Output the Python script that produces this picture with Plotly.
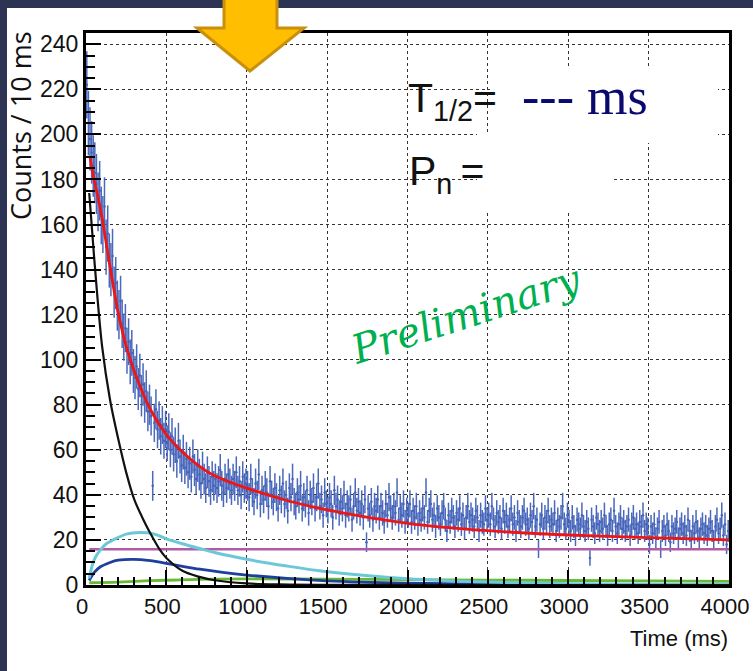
import plotly.graph_objects as go

# ---------------- data ----------------
bin_width_ms = 10
counts = [
    222, 205, 198, 192, 186, 183, 178, 170, 175, 164,
    160, 168, 150, 156, 144, 140, 146, 130, 134, 124,
    120, 126, 116, 110, 114, 104, 108, 99, 103, 95,
    92, 97, 87, 93, 84, 89, 81, 86, 77, 80,
    75, 44, 72, 78, 69, 73, 66, 71, 64, 69,
    63, 68, 60, 66, 58, 62, 55, 64, 57, 53,
    59, 52, 56, 50, 54, 48, 57, 51, 47, 53,
    49, 45, 52, 47, 43, 50, 46, 42, 48, 44,
    47, 43, 46, 51, 44, 41, 47, 43, 49, 45,
    42, 47, 44, 50, 42, 46, 40, 48, 43, 45,
    44, 39, 47, 41, 37, 45, 40, 49, 36, 42,
    38, 44, 41, 35, 46, 40, 37, 43, 39, 34,
    42, 38, 45, 36, 40, 33, 43, 39, 47, 37,
    35, 41, 38, 44, 34, 39, 36, 42, 32, 40,
    37, 43, 34, 39, 45, 35, 38, 31, 41, 36,
    33, 39, 36, 30, 42, 35, 38, 32, 37, 34,
    40, 31, 36, 34, 38, 29, 35, 41, 33, 37,
    32, 36, 30, 38, 19, 34, 31, 37, 29, 35,
    33, 38, 30, 35, 32, 28, 36, 31, 39, 34,
    30, 35, 32, 41, 29, 34, 31, 36, 28, 33,
    31, 36, 28, 33, 30, 35, 27, 32, 29, 34,
    30, 41, 28, 33, 36, 29, 31, 26, 34, 30,
    27, 32, 35, 29, 24, 31, 28, 33, 30, 26,
    32, 29, 34, 27, 31, 25, 30, 35, 28, 31,
    29, 26, 33, 30, 24, 31, 28, 27, 34, 29,
    31, 27, 35, 29, 26, 32, 28, 30, 25, 33,
    28, 31, 26, 29, 34, 27, 30, 24, 32, 28,
    26, 30, 33, 27, 29, 25, 31, 28, 35, 26,
    29, 16, 27, 31, 25, 30, 28, 33, 26, 29,
    27, 32, 24, 29, 26, 30, 35, 27, 25, 31,
    28, 24, 30, 26, 22, 29, 27, 25, 31, 26,
    24, 28, 25, 12, 29, 26, 23, 30, 27, 24,
    28, 25, 31, 26, 22, 27, 29, 24, 33, 26,
    23, 27, 30, 25, 28, 24, 26, 29, 22, 27,
    30, 25, 27, 23, 28, 26, 31, 24, 27, 25,
    18, 26, 23, 27, 21, 25, 28, 16, 24, 26,
    22, 27, 24, 19, 26, 23, 25, 28, 21, 25,
    27, 23, 26, 22, 29, 24, 20, 26, 23, 28,
    24, 21, 25, 27, 23, 26, 22, 25, 28, 24,
    20, 26, 29, 23, 25, 31, 22, 27, 18, 24,
]
bin_centers = [i * bin_width_ms + bin_width_ms / 2 for i in range(len(counts))]

# fit components
total_t = [25, 50, 75, 100, 150, 200, 250, 300, 400, 500, 600, 700, 800, 1000, 1250, 1500, 2000, 2500, 3000, 3500, 4000]
total_v = [190, 180, 172, 163, 141, 121, 106, 95, 78, 66.7, 59, 53, 48.5, 43, 37.5, 33.3, 27.4, 24.1, 22.2, 21, 20]

parent_t = [20, 50, 100, 150, 200, 250, 300, 350, 400, 460, 500, 600, 700, 800, 1000, 1200, 1500, 2000, 3000, 4000]
parent_v = [174, 146, 106, 82, 65, 50, 38, 30, 23, 15.6, 12, 6.3, 3.7, 2.1, 0.7, 0.25, 0.08, 0.02, 0, 0]

cyan_t = [20, 40, 60, 90, 130, 170, 250, 335, 420, 500, 600, 700, 800, 1000, 1250, 1500, 2000, 2500, 3000, 4000]
cyan_v = [3, 9, 12.5, 15.6, 18.5, 20, 22.6, 23.3, 22.7, 20.5, 18.3, 16.3, 14.4, 11.4, 8.4, 5.9, 2.8, 1.3, 0.6, 0.2]

blue_t = [20, 50, 90, 150, 200, 294, 400, 500, 600, 708, 850, 1000, 1250, 1500, 2000, 2500, 3000, 4000]
blue_v = [2, 5.5, 8.1, 10, 11, 11.4, 10.8, 9.6, 8.3, 7, 5.6, 4.4, 2.9, 1.8, 0.8, 0.4, 0.2, 0.1]

green_t = [20, 200, 400, 600, 800, 1000, 1500, 2000, 2500, 3000, 3500, 4000]
green_v = [1.0, 1.3, 1.9, 2.3, 2.6, 2.7, 2.6, 2.4, 2.2, 2.0, 1.8, 1.6]

bkg_t = [20, 4000]
bkg_v = [15.9, 15.9]

x_range = [0, 4000]
y_range = [0, 245]

# ---------------- layout helpers ----------------
W, H = 753, 671
ML, MR, MT, MB = 86, 24, 33, 86
PW, PH = W - ML - MR, H - MT - MB


def pxx(p):
    return (p - ML) / PW


def pxy(p):
    return (H - MB - p) / PH


TICKFONT = "Liberation Sans, Arial, sans-serif"

fig = go.Figure()

fig.add_trace(go.Scatter(
    x=bin_centers, y=counts, mode="markers",
    marker=dict(color="#4564b8", size=2.5),
    error_y=dict(type="sqrt", color="#4a68bc", thickness=1.5, width=0),
    showlegend=False, hoverinfo="skip",
))

curves = [
    (bkg_t, bkg_v, "#b15aa6", 2.6),
    (green_t, green_v, "#66bb33", 2.8),
    (blue_t, blue_v, "#1f3f9f", 2.8),
    (cyan_t, cyan_v, "#6cc8d8", 3.0),
    (parent_t, parent_v, "#111111", 2.2),
    (total_t, total_v, "#ee1515", 2.8),
]
for t, v, c, w in curves:
    fig.add_trace(go.Scatter(
        x=t, y=v, mode="lines",
        line=dict(color=c, width=w, shape="spline", smoothing=0.9),
        showlegend=False, hoverinfo="skip",
    ))

axis_common = dict(
    showline=True, linecolor="black", linewidth=3, mirror=True,
    ticks="inside", tickcolor="black", tickwidth=2,
    showgrid=True, gridcolor="#333333", gridwidth=1.3, griddash="dot",
    zeroline=False, ticklabeloverflow="allow", automargin=False,
)

fig.update_xaxes(
    range=x_range, dtick=500, tick0=0, ticklen=15,
    minor=dict(dtick=100, ticklen=8, tickwidth=1.6, tickcolor="black", ticks="inside", showgrid=False),
    tickfont=dict(family=TICKFONT, size=22, color="#111111"),
    ticklabelshift=-4,
    **axis_common,
)
fig.update_yaxes(
    range=y_range, dtick=20, tick0=0, ticklen=15,
    minor=dict(dtick=5, ticklen=9, tickwidth=1.6, tickcolor="black", ticks="inside", showgrid=False),
    tickfont=dict(family=TICKFONT, size=23, color="#111111"),
    **axis_common,
)

shapes = []
# dark slide background strips
navy = "#2d3352"
shapes.append(dict(type="rect", xref="paper", yref="paper", x0=pxx(-2), x1=pxx(7), y0=pxy(H + 2), y1=pxy(-2),
                   fillcolor=navy, line=dict(width=0), layer="below"))
shapes.append(dict(type="rect", xref="paper", yref="paper", x0=pxx(-2), x1=pxx(W + 2), y0=pxy(8), y1=pxy(-2),
                   fillcolor=navy, line=dict(width=0), layer="below"))
# white label boxes hiding the grid
shapes.append(dict(type="rect", xref="paper", yref="paper", x0=pxx(490), x1=pxx(718), y0=pxy(143), y1=pxy(67),
                   fillcolor="white", line=dict(width=0), layer="above"))
shapes.append(dict(type="rect", xref="paper", yref="paper", x0=pxx(477), x1=pxx(613), y0=pxy(213), y1=pxy(133),
                   fillcolor="white", line=dict(width=0), layer="above"))
# orange arrow
arrow_pts = [(224, -3), (277, -3), (277, 28), (304, 28), (250, 71), (197, 28), (224, 28)]
path = "M " + " L ".join(f"{pxx(a):.5f},{pxy(b):.5f}" for a, b in arrow_pts) + " Z"
shapes.append(dict(type="path", xref="paper", yref="paper", path=path,
                   fillcolor="#ffbe00", line=dict(color="#c8900c", width=3), layer="above"))

annotations = [
    dict(text="Counts / 10 ms", x=pxx(21), y=pxy(126), xref="paper", yref="paper",
         textangle=-90, showarrow=False, xanchor="center", yanchor="middle",
         font=dict(family="Open Sans, sans-serif", size=27, color="#111111")),
    dict(text="Time (ms)", x=pxx(730), y=pxy(638), xref="paper", yref="paper",
         showarrow=False, xanchor="right", yanchor="middle",
         font=dict(family=TICKFONT, size=22, color="#111111")),
    dict(text="T<sub>1/2</sub>=", x=pxx(406), y=pxy(101), xref="paper", yref="paper",
         showarrow=False, xanchor="left", yanchor="middle",
         font=dict(family=TICKFONT, size=41, color="#111111")),
    dict(text="--- ms", x=pxx(520), y=pxy(97), xref="paper", yref="paper",
         showarrow=False, xanchor="left", yanchor="middle",
         font=dict(family="Liberation Serif, Times New Roman, serif", size=52, color="#0a0a6e")),
    dict(text="P<sub>n</sub>\u2009=", x=pxx(407), y=pxy(174), xref="paper", yref="paper",
         showarrow=False, xanchor="left", yanchor="middle",
         font=dict(family=TICKFONT, size=41, color="#111111")),
    dict(text="Preliminary", x=pxx(466), y=pxy(314), xref="paper", yref="paper",
         showarrow=False, xanchor="center", yanchor="middle", textangle=-18,
         font=dict(family="DejaVu Serif, serif", size=40, color="#00b050", style="italic")),
]

fig.update_layout(
    width=W, height=H,
    margin=dict(l=ML, r=MR, t=MT, b=MB, pad=0, autoexpand=False),
    paper_bgcolor="white", plot_bgcolor="white",
    shapes=shapes, annotations=annotations,
    showlegend=False,
)

fig.write_html("out.html")
